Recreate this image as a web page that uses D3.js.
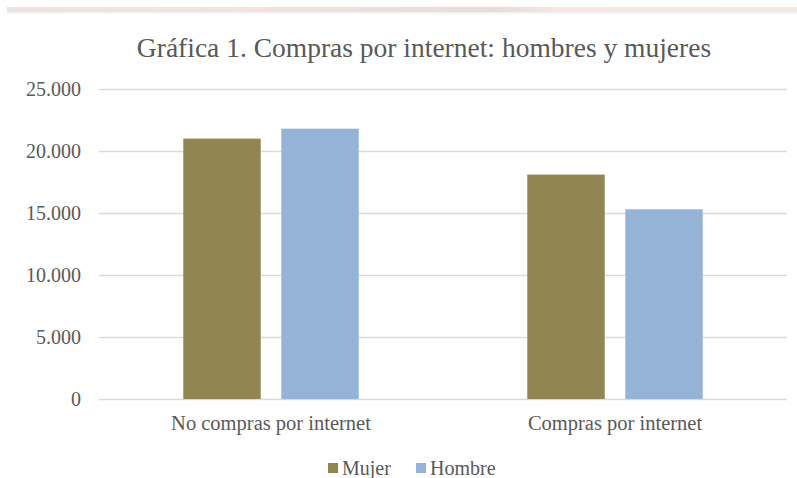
<!DOCTYPE html>
<html>
<head>
<meta charset="utf-8">
<script src="https://cdn.jsdelivr.net/npm/d3@7"></script>
<style>
  body { margin: 0; background: #fff; }
  text { font-family: "Liberation Serif", "Times New Roman", serif; fill: #595959; }
</style>
</head>
<body>
<div id="chart"></div>
<script>
// data
var categories = ["No compras por internet", "Compras por internet"];
var series = ["Mujer", "Hombre"];
var mujer = [21000, 18100];
var hombre = [21800, 15300];
var yTicks = [0, 5000, 10000, 15000, 20000, 25000];
var colors = ["#8f8651", "#95b3d7"];

var width = 797, height = 478;

var svg = d3.select("#chart")
    .append("svg")
    .attr("width", width)
    .attr("height", height);

// faint strip at the top (scan edge)
var grad = svg.append("defs").append("linearGradient").attr("id", "strip");
[[0, "#eee3e0"], [0.3, "#f3e2de"], [0.62, "#e7dcd8"], [0.7, "#f7e6e2"], [1, "#f6e6e2"]].forEach(function(s){
    grad.append("stop").attr("offset", s[0]).attr("stop-color", s[1]);
});
svg.append("rect")
    .attr("x", 7).attr("y", 7).attr("width", 790).attr("height", 5)
    .attr("fill", "url(#strip)");
svg.append("rect")
    .attr("x", 7).attr("y", 12).attr("width", 790).attr("height", 2)
    .attr("fill", "#f4f4f4");

var plotLeft = 99, plotRight = 787, plotTop = 89, plotBottom = 399;

var y = d3.scaleLinear().domain([0, 25000]).range([plotBottom, plotTop]);

var x0 = d3.scaleBand()
    .domain(categories)
    .range([plotLeft, plotRight])
    .paddingInner(0.49)
    .paddingOuter(0.245);

var x1 = d3.scaleBand()
    .domain(series)
    .range([0, x0.bandwidth()])
    .paddingInner(0.21);

var fmt = function(v){ return v === 0 ? "0" : d3.format(",")(v).replace(/,/g, "."); };

// gridlines
svg.append("g")
    .selectAll("line")
    .data(yTicks)
    .enter().append("line")
    .attr("x1", plotLeft).attr("x2", plotRight)
    .attr("y1", function(d){ return y(d) + 0.5; })
    .attr("y2", function(d){ return y(d) + 0.5; })
    .attr("stroke", "#d9d9d9")
    .attr("stroke-width", 1.3);

// y labels
svg.append("g")
    .selectAll("text")
    .data(yTicks)
    .enter().append("text")
    .attr("x", 81)
    .attr("y", function(d){ return y(d); })
    .attr("dy", "0.35em")
    .attr("text-anchor", "end")
    .style("font-size", "20px")
    .text(fmt);

// bars
var rows = categories.map(function(c, i){
    return { cat: c, values: [mujer[i], hombre[i]] };
});

var groups = svg.append("g")
    .selectAll("g")
    .data(rows)
    .enter().append("g")
    .attr("transform", function(d){ return "translate(" + x0(d.cat) + ",0)"; });

groups.selectAll("rect")
    .data(function(d){
        return d.values.map(function(v, j){ return { key: series[j], value: v, idx: j }; });
    })
    .enter().append("rect")
    .attr("x", function(d){ return x1(d.key); })
    .attr("y", function(d){ return y(d.value); })
    .attr("width", x1.bandwidth())
    .attr("height", function(d){ return plotBottom - y(d.value); })
    .attr("fill", function(d){ return colors[d.idx]; });

// category labels
svg.append("g")
    .selectAll("text")
    .data(categories)
    .enter().append("text")
    .attr("x", function(d){ return x0(d) + x0.bandwidth() / 2; })
    .attr("y", 423)
    .attr("dy", "0.35em")
    .attr("text-anchor", "middle")
    .style("font-size", "20.5px")
    .text(function(d){ return d; });

// title
svg.append("text")
    .attr("x", 424)
    .attr("y", 47)
    .attr("dy", "0.35em")
    .attr("text-anchor", "middle")
    .style("font-size", "27.5px")
    .text("Gráfica 1. Compras por internet: hombres y mujeres");

// legend
var legendX = [328, 416];
var legend = svg.append("g")
    .selectAll("g")
    .data(series)
    .enter().append("g")
    .attr("transform", function(d, i){ return "translate(" + legendX[i] + ",463)"; });

legend.append("rect")
    .attr("width", 10).attr("height", 10)
    .attr("fill", function(d, i){ return colors[i]; });

legend.append("text")
    .attr("x", 14)
    .attr("y", 5)
    .attr("dy", "0.35em")
    .style("font-size", "20px")
    .text(function(d){ return d; });
</script>
</body>
</html>
